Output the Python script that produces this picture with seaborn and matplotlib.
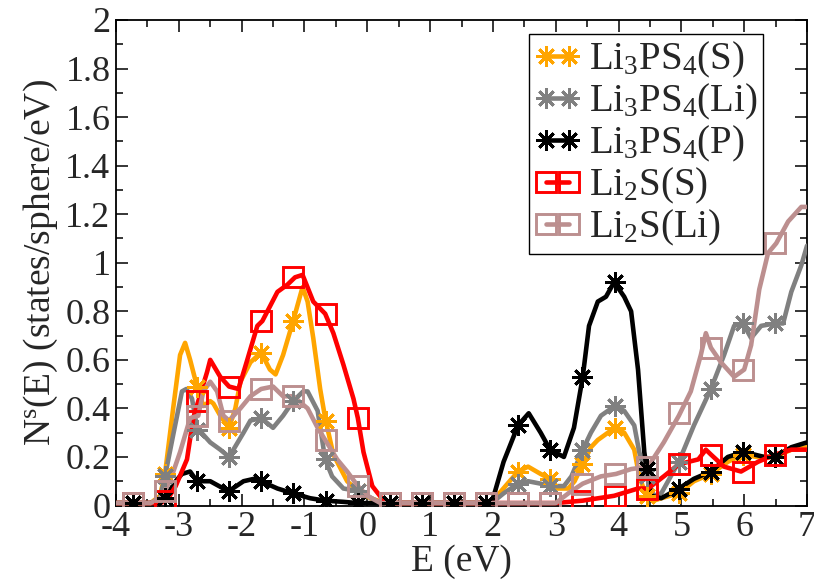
import os, glob
import matplotlib
matplotlib.use("Agg")
import matplotlib.pyplot as plt
from matplotlib import font_manager
from matplotlib.lines import Line2D
from matplotlib.ticker import MultipleLocator
import seaborn as sns

# ---------------- data ----------------
# Li3PS4(S)  (orange)
x_orange = [-4.0, -3.45, -3.3, -3.22, -3.09, -2.98, -2.90, -2.82, -2.71, -2.61, -2.50, -2.45, -2.34, -2.20,
            -2.10, -2.02, -1.86, -1.69, -1.55, -1.46, -1.34, -1.18, -1.03, -0.95, -0.86, -0.75, -0.67, -0.54,
            -0.32, -0.15, 0.05, 0.29, 1.95, 2.10, 2.40, 2.56, 2.76, 2.91, 3.03, 3.20, 3.30, 3.43, 3.56, 3.67,
            3.94, 4.09, 4.25, 4.33, 4.44, 4.56, 4.68, 4.96, 5.20, 5.47, 5.74, 5.98, 6.20, 6.49, 6.75, 7.0]
y_orange = [0.01, 0.01, 0.04, 0.13, 0.40, 0.62, 0.67, 0.60, 0.49, 0.41, 0.43, 0.42, 0.37, 0.32,
            0.40, 0.51, 0.59, 0.63, 0.56, 0.54, 0.62, 0.76, 0.90, 0.84, 0.69, 0.48, 0.36, 0.21,
            0.10, 0.06, 0.03, 0.01, 0.01, 0.05, 0.14, 0.16, 0.13, 0.11, 0.07, 0.07, 0.10, 0.17, 0.24, 0.27,
            0.32, 0.30, 0.23, 0.12, 0.04, 0.02, 0.03, 0.05, 0.10, 0.13, 0.18, 0.21, 0.20, 0.20, 0.23, 0.24]

# Li3PS4(Li)  (grey)
x_grey = [-4.0, -3.45, -3.3, -3.22, -3.09, -2.95, -2.88, -2.79, -2.71, -2.50, -2.34, -2.20, -1.97, -1.86,
          -1.69, -1.50, -1.34, -1.18, -1.02, -0.95, -0.79, -0.67, -0.56, -0.38, -0.15, 0.00, 0.21, 1.98,
          2.17, 2.40, 2.56, 2.76, 2.91, 3.13, 3.25, 3.43, 3.56, 3.72, 3.94, 4.09, 4.25, 4.33, 4.44, 4.56,
          4.68, 4.96, 5.20, 5.47, 5.68, 5.84, 5.98, 6.11, 6.27, 6.49, 6.62, 6.75, 6.91, 7.0]
y_grey = [0.01, 0.01, 0.03, 0.12, 0.29, 0.47, 0.48, 0.44, 0.32, 0.26, 0.23, 0.20, 0.30, 0.35,
          0.36, 0.32, 0.37, 0.43, 0.47, 0.47, 0.39, 0.19, 0.12, 0.07, 0.06, 0.04, 0.01, 0.01,
          0.05, 0.09, 0.10, 0.09, 0.08, 0.08, 0.12, 0.23, 0.30, 0.37, 0.41, 0.39, 0.33, 0.22, 0.12, 0.04,
          0.05, 0.18, 0.33, 0.48, 0.62, 0.74, 0.75, 0.69, 0.74, 0.75, 0.75, 0.88, 0.99, 1.07]

# Li3PS4(P)  (black)
x_black = [-4.0, -3.4, -3.22, -3.05, -2.95, -2.82, -2.71, -2.50, -2.29, -2.20, -1.97, -1.80, -1.69, -1.43,
           -1.18, -0.91, -0.67, -0.38, -0.15, 0.10, 1.98, 2.17, 2.40, 2.57, 2.76, 2.91, 3.13, 3.29, 3.43,
           3.53, 3.67, 3.80, 3.93, 4.09, 4.20, 4.31, 4.41, 4.45, 4.52, 4.68, 4.96, 5.20, 5.47, 5.74, 5.98,
           6.16, 6.32, 6.49, 6.75, 7.0]
y_black = [0.01, 0.01, 0.03, 0.10, 0.13, 0.14, 0.10, 0.10, 0.07, 0.06, 0.10, 0.11, 0.10, 0.07,
           0.05, 0.03, 0.02, 0.015, 0.01, 0.01, 0.01, 0.18, 0.33, 0.38, 0.30, 0.23, 0.20, 0.32, 0.53,
           0.74, 0.84, 0.86, 0.92, 0.86, 0.80, 0.56, 0.22, 0.15, 0.04, 0.03, 0.07, 0.11, 0.14, 0.20, 0.22,
           0.21, 0.20, 0.20, 0.24, 0.26]

# Li2S(S)  (red)
x_red = [-4.0, -3.3, -3.19, -3.05, -2.87, -2.77, -2.69, -2.55, -2.50, -2.34, -2.20, -2.05, -1.91, -1.75,
         -1.67, -1.43, -1.27, -1.15, -1.03, -0.86, -0.67, -0.54, -0.38, -0.22, -0.15, -0.06, 0.08, 0.29,
         3.00, 3.43, 3.93, 4.31, 4.47, 4.72, 4.96, 5.27, 5.39, 5.47, 5.68, 5.95, 6.22, 6.49, 6.75, 7.0]
y_red = [0.01, 0.01, 0.02, 0.08, 0.19, 0.36, 0.43, 0.55, 0.60, 0.53, 0.49, 0.48, 0.60, 0.74,
         0.76, 0.88, 0.91, 0.94, 0.95, 0.84, 0.79, 0.71, 0.58, 0.44, 0.36, 0.22, 0.08, 0.01,
         0.01, 0.02, 0.04, 0.07, 0.07, 0.12, 0.17, 0.19, 0.23, 0.21, 0.16, 0.14, 0.18, 0.21, 0.23, 0.23]

# Li2S(Li)  (rosy brown)
x_pink = [-4.0, -3.45, -3.3, -3.22, -3.1, -2.98, -2.82, -2.69, -2.61, -2.50, -2.39, -2.29, -2.20, -2.02,
          -1.86, -1.69, -1.50, -1.34, -1.18, -0.95, -0.79, -0.67, -0.48, -0.32, -0.15, 0.00, 0.21, 3.00,
          3.20, 3.43, 3.72, 3.96, 4.20, 4.47, 4.72, 4.96, 5.15, 5.31, 5.39, 5.47, 5.63, 5.84, 6.00, 6.11,
          6.24, 6.38, 6.51, 6.70, 6.91, 7.0]
y_pink = [0.01, 0.01, 0.03, 0.06, 0.13, 0.22, 0.36, 0.37, 0.47, 0.51, 0.47, 0.37, 0.35, 0.40,
          0.45, 0.48, 0.49, 0.45, 0.45, 0.40, 0.32, 0.27, 0.19, 0.14, 0.08, 0.04, 0.01, 0.01,
          0.05, 0.09, 0.12, 0.13, 0.15, 0.16, 0.26, 0.37, 0.47, 0.62, 0.71, 0.65, 0.59, 0.53, 0.56, 0.66,
          0.89, 1.04, 1.08, 1.17, 1.23, 1.23]

# symbol positions (every ~0.51 eV)
x_marks = [-3.73, -3.22, -2.71, -2.20, -1.69, -1.18, -0.66, -0.15, 0.36, 0.87, 1.38, 1.89,
           2.40, 2.91, 3.42, 3.94, 4.45, 4.96, 5.47, 5.98, 6.49]
m_orange = [0.01, 0.13, 0.49, 0.32, 0.63, 0.76, 0.35, 0.06, 0.01, 0.01, 0.01, 0.01,
            0.14, 0.11, 0.17, 0.32, 0.04, 0.05, 0.13, 0.21, 0.20]
m_grey = [0.01, 0.12, 0.31, 0.20, 0.36, 0.43, 0.19, 0.06, 0.01, 0.01, 0.01, 0.01,
          0.09, 0.08, 0.23, 0.41, 0.12, 0.18, 0.48, 0.75, 0.75]
m_black = [0.01, 0.03, 0.10, 0.06, 0.10, 0.05, 0.02, 0.01, 0.01, 0.01, 0.01, 0.01,
           0.33, 0.23, 0.53, 0.92, 0.15, 0.07, 0.14, 0.22, 0.20]
m_red = [0.01, 0.02, 0.43, 0.49, 0.76, 0.94, 0.79, 0.36, 0.01, 0.01, 0.01, 0.01,
         0.01, 0.01, 0.02, 0.04, 0.07, 0.17, 0.21, 0.14, 0.21]
m_pink = [0.01, 0.06, 0.37, 0.35, 0.48, 0.45, 0.27, 0.08, 0.01, 0.01, 0.01, 0.01,
          0.01, 0.01, 0.09, 0.13, 0.16, 0.38, 0.65, 0.56, 1.08]

labels = [r'Li$_3$PS$_4$(S)', r'Li$_3$PS$_4$(Li)', r'Li$_3$PS$_4$(P)', r'Li$_2$S(S)', r'Li$_2$S(Li)']
colors = ['#FFA500', '#808080', '#000000', '#FF0000', '#BC8F8F']
symbols = ['ast', 'ast', 'ast', 'sq', 'sq']

x_ticks = [-4, -3, -2, -1, 0, 1, 2, 3, 4, 5, 6, 7]
y_ticks = [0, 0.2, 0.4, 0.6, 0.8, 1.0, 1.2, 1.4, 1.6, 1.8, 2.0]
y_ticklabels = ['0', '0.2', '0.4', '0.6', '0.8', '1', '1.2', '1.4', '1.6', '1.8', '2']

lines = [(x_orange, y_orange), (x_grey, y_grey), (x_black, y_black), (x_red, y_red), (x_pink, y_pink)]
marks = [m_orange, m_grey, m_black, m_red, m_pink]

# ---------------- style ----------------
sns.set_theme(style='ticks')

# locate a Times-like serif font file and register it
files = font_manager.findSystemFonts()
for d in ['/usr/share/fonts', '/usr/local/share/fonts', os.path.expanduser('~/.fonts')]:
    files += glob.glob(d + '/**/*.[ot]tf', recursive=True)
by_base = {}
for f in files:
    by_base.setdefault(os.path.basename(f).lower(), f)
serif_name = 'DejaVu Serif'
for base in ['liberationserif-regular.ttf', 'tinos-regular.ttf', 'texgyretermes-regular.otf',
             'nimbusroman-regular.otf', 'nimbusroman-regular.ttf', 'times.ttf', 'times new roman.ttf',
             'freeserif.ttf', 'dejavuserif.ttf']:
    if base in by_base:
        path = by_base[base]
        try:
            font_manager.fontManager.addfont(path)
            serif_name = font_manager.FontProperties(fname=path).get_name()
            break
        except Exception:
            continue

plt.rcParams['font.family'] = [serif_name, 'DejaVu Serif']
plt.rcParams['mathtext.fontset'] = 'custom'
plt.rcParams['mathtext.rm'] = serif_name
plt.rcParams['mathtext.it'] = serif_name + ':italic'
plt.rcParams['mathtext.bf'] = serif_name + ':bold'
plt.rcParams['mathtext.default'] = 'regular'

fig = plt.figure(figsize=(8.14, 5.82), dpi=100)
ax = fig.add_axes([116 / 814, 1 - 505.5 / 582, (807 - 116) / 814, (505.5 - 20) / 582])

LW = 3.3
MS_AST = 14.5
MS_SQ = 15
MEW = 2.1
AST = (8, 2, 0)

handles = []
for (lx, ly), my, lab, col, sym in zip(lines, marks, labels, colors, symbols):
    sns.lineplot(x=lx, y=ly, ax=ax, color=col, linewidth=LW, estimator=None, sort=False,
                 legend=False, zorder=3)
    mk = AST if sym == 'ast' else 's'
    ms = MS_AST if sym == 'ast' else MS_SQ
    sns.lineplot(x=x_marks, y=my, ax=ax, color=col, linestyle='', marker=mk, markersize=ms,
                 markeredgewidth=MEW, markerfacecolor='none', markeredgecolor=col,
                 estimator=None, sort=False, legend=False, zorder=4)
    handles.append(Line2D([], [], color=col, linewidth=LW, marker=mk, markersize=ms,
                          markeredgewidth=MEW, markerfacecolor='none', markeredgecolor=col))

ax.set_xlim(-4, 7)
ax.set_ylim(0, 2)
ax.set_xticks(x_ticks)
ax.set_xticklabels([str(t) for t in x_ticks])
ax.set_yticks(y_ticks)
ax.set_yticklabels(y_ticklabels)
ax.xaxis.set_minor_locator(MultipleLocator(0.5))
ax.yaxis.set_minor_locator(MultipleLocator(0.1))
ax.tick_params(which='both', direction='in', top=True, right=True, width=1.1, color='black')
ax.tick_params(which='major', length=8.5, labelsize=26, pad=4)
ax.tick_params(which='minor', length=5)
for s in ax.spines.values():
    s.set_linewidth(1.3)
    s.set_color('black')

ax.set_xlabel('E (eV)', fontsize=27, labelpad=0)
ax.set_ylabel(r'N$^s$(E) (states/sphere/eV)', fontsize=27, labelpad=4)

leg = ax.legend(handles, labels, loc='upper right', bbox_to_anchor=(763 / 814, 1 - 34 / 582),
                bbox_transform=fig.transFigure, borderaxespad=0, fontsize=28, frameon=True,
                fancybox=False, framealpha=1, edgecolor='black', handlelength=1.2,
                handletextpad=0.2, labelspacing=0.05, borderpad=0.15, numpoints=2)
leg.get_frame().set_linewidth(1.0)

fig.savefig('out.png', dpi=100)
